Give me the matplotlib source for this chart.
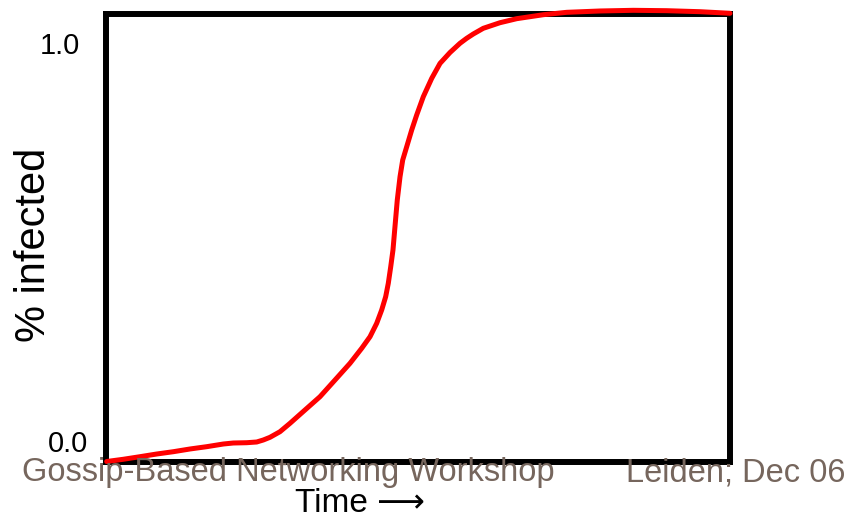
import matplotlib
matplotlib.use("Agg")
import matplotlib.pyplot as plt
import matplotlib.transforms as mtransforms

# Data (time in arbitrary units 0..100, fraction infected)
time = [0.11, 2.77, 5.45, 8.13, 10.79, 13.46, 16.14, 18.80, 20.40, 22.55,
        24.15, 25.21, 26.28, 27.88, 29.49, 31.89, 34.29, 36.70, 39.10, 40.98,
        42.31, 43.38, 44.18, 44.82, 45.24, 45.63, 45.99, 46.31, 46.68, 47.12,
        47.55, 48.19, 48.99, 49.79, 50.85, 52.20, 53.53, 55.13, 56.73, 57.80,
        58.86, 60.46, 63.14, 65.82, 70.08, 73.83, 79.17, 84.50, 89.86, 95.19,
        100.0]
infected = [0.0, 0.0053, 0.0115, 0.0179, 0.0234, 0.0299, 0.0354, 0.0418,
            0.0442, 0.0449, 0.0466, 0.0514, 0.0578, 0.0712, 0.0913, 0.1231,
            0.1548, 0.1947, 0.2346, 0.2705, 0.2982, 0.3302, 0.3620, 0.3938,
            0.4258, 0.4655, 0.5054, 0.5611, 0.6249, 0.6805, 0.7204, 0.7522,
            0.7921, 0.8280, 0.8717, 0.9156, 0.9513, 0.9773, 0.9993, 1.0112,
            1.0215, 1.0351, 1.0485, 1.0581, 1.0676, 1.0733, 1.0765, 1.0781,
            1.0772, 1.0748, 1.0710]
ytick_values = [0.0, 1.0]
ytick_labels = ["0.0", "1.0"]
footer_left = "Gossip-Based Networking Workshop"
footer_right = "Leiden; Dec 06"

plt.rcParams['font.family'] = ['Liberation Sans', 'DejaVu Sans']

W, H = 847, 522
fig = plt.figure(figsize=(W / 100, H / 100), dpi=100)
left, right, top, bottom = 106, 730, 14, 461.5
ax = fig.add_axes([left / W, 1 - bottom / H, (right - left) / W, (bottom - top) / H])

ax.plot(time, infected, color='#ff0000', lw=3.6, solid_capstyle='round',
        solid_joinstyle='round', clip_on=False, zorder=3)

ax.set_xlim(0, 100)
ax.set_ylim(0, (bottom - top) / (bottom - 43))
ax.set_xticks([])
ax.set_yticks(ytick_values)
ax.set_yticklabels(ytick_labels)
ax.tick_params(axis='y', length=0, pad=19, labelsize=21)
for s in ax.spines.values():
    s.set_linewidth(4.3)
    s.set_color('black')

# shift the 0.0 label as on the slide
lbl0 = ax.get_yticklabels()[0]
lbl0.set_transform(lbl0.get_transform() +
                   mtransforms.ScaledTranslation(9 / 100, 20 / 100, fig.dpi_scale_trans))

fig.text(34 / W, 1 - 245 / H, "% infected", rotation=90, ha='center', va='center',
         fontsize=30, color='black')
fig.text(360 / W, 1 - 512 / H, "Time \u27f6", ha='center', va='baseline',
         fontsize=24, color='black')

fig.text(22 / W, 1 - 481 / H, footer_left, ha='left', va='baseline',
         fontsize=23.5, color='#76665d', zorder=5)
fig.text(845 / W, 1 - 481 / H, footer_right, ha='right', va='baseline',
         fontsize=23.5, color='#76665d', zorder=5)

fig.savefig("out.png", dpi=100)
